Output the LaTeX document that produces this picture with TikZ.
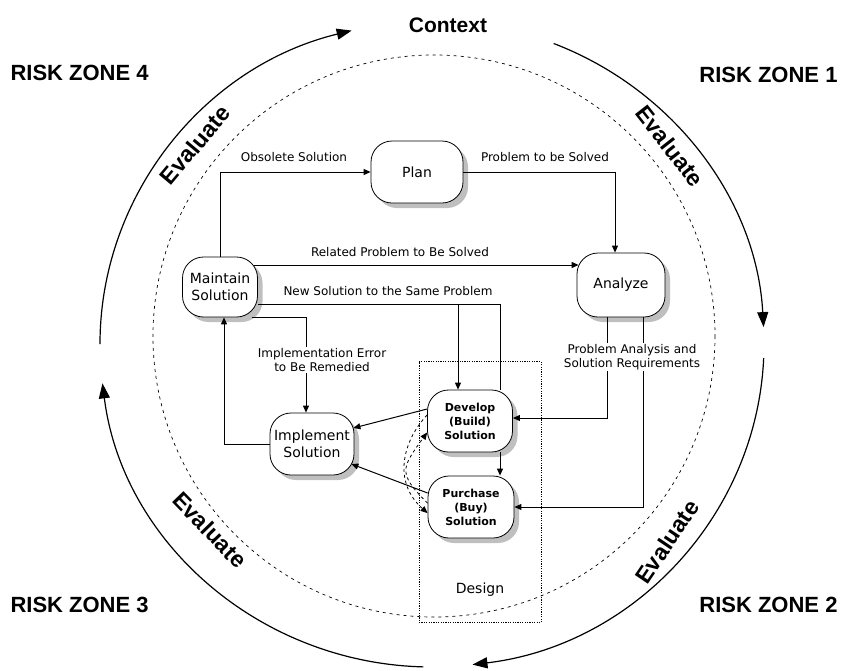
\documentclass[tikz,border=0pt]{standalone}
\usepackage{fontspec}
\setmainfont{DejaVu Sans}
\newfontfamily\boldfont{Liberation Sans}
\usetikzlibrary{arrows.meta,shapes.misc,shadows,calc}
\begin{document}
\begin{tikzpicture}[x=1pt,y=-1pt, line width=1pt,
  proc/.style={rectangle, rounded corners=21pt, draw, line width=0.8pt, fill=white, inner sep=0pt, align=center,
     font=\fontsize{14}{17}\selectfont,
     drop shadow={opacity=1, fill=gray!50, draw=none, shadow xshift=5pt, shadow yshift=-5pt}},
  procb/.style={proc, font=\bfseries\fontsize{11}{14}\selectfont},
  lbl/.style={font=\fontsize{12}{14}\selectfont, inner sep=1pt},
  arr/.style={-{Triangle[length=7pt,width=6pt]}},
  bigarr/.style={-{Triangle[length=15pt,width=11pt]}, line width=1.2pt},
  zone/.style={font=\boldfont\bfseries\fontsize{22}{24}\selectfont, inner sep=0pt},
  evl/.style={font=\boldfont\bfseries\fontsize{23}{24}\selectfont, inner sep=0pt},
]
\useasboundingbox (0,0) rectangle (846,670);

% outer cycle arcs
\draw[bigarr] (432,344) ++(180:332 and 323) arc[start angle=180, end angle=256, x radius=332, y radius=323];
\draw[bigarr] (432,344) ++(291.5:332 and 323) arc[start angle=291.5, end angle=357, x radius=332, y radius=323];
\draw[bigarr] (432,344) ++(2.5:332 and 323) arc[start angle=2.5, end angle=83, x radius=332, y radius=323];
\draw[bigarr] (432,344) ++(91.5:332 and 323) arc[start angle=91.5, end angle=173, x radius=332, y radius=323];

% inner dashed context circle
\draw[dash pattern=on 3pt off 4pt, line width=0.7pt] (434,336) circle[radius=281];

% design box
\node[draw, dash pattern=on 1.2pt off 1.2pt, line width=0.7pt, minimum width=122pt, minimum height=261pt, inner sep=0pt] (design) at (480,492) {};
\node[font=\fontsize{14}{16}\selectfont] (designlbl) at (480,590) {Design};

% processes
\node[proc, minimum width=92pt, minimum height=62pt] (plan) at (417,172) {Plan};
\node[proc, minimum width=88pt, minimum height=64pt] (analyze) at (621,285) {Analyze};
\node[proc, minimum width=75pt, minimum height=60pt] (maint) at (220,287) {Maintain\\Solution};
\node[proc, minimum width=84pt, minimum height=62pt] (impl) at (312,444) {Implement\\Solution};
\node[procb, minimum width=85pt, minimum height=62pt] (dev) at (470,421) {Develop\\(Build)\\Solution};
\node[procb, minimum width=86pt, minimum height=62pt] (pur) at (471,507) {Purchase\\(Buy)\\Solution};

% connectors
\draw[arr] (maint.north) |- (plan.west);
\draw[arr] (plan.east) -| ([xshift=-6pt]analyze.north);
\draw[arr] ([yshift=22pt,xshift=-4pt]maint.east) -- ([yshift=20pt,xshift=2pt]analyze.west);
\coordinate (ns) at ([yshift=-17pt]maint.east);
\draw (ns) -| ([xshift=30pt]dev.north);
\draw[arr] ([xshift=-12pt]dev.north |- ns) -- ([xshift=-12pt]dev.north);
\draw[arr] ([xshift=-6pt]maint.east |- maint.south) -| ([xshift=-6pt]impl.north);
\draw[arr] (impl.west) -| ([xshift=4pt]maint.south);
\draw[arr] ([xshift=-14pt]analyze.south) |- ([yshift=3pt]dev.east);
\draw[arr] ([xshift=22pt]analyze.south) |- (pur.east);
\draw[arr] ([xshift=30pt]dev.south) -- ([xshift=29pt]pur.north);
\draw[arr] ([yshift=12pt]dev.west) -- ([yshift=16pt,xshift=-1pt]impl.east);
\draw[arr] ([yshift=14pt]pur.west) -- ([yshift=-20pt,xshift=-3pt]impl.east);
\draw[arr, dashed, line width=0.8pt] (pur.175) .. controls +(-30,-30) and +(-26,36) .. (dev.195);
\draw[arr, dashed, line width=0.8pt] (dev.172) .. controls +(-26,28) and +(-34,-30) .. (pur.188);

% connector labels
\node[lbl] (l1) at (294,157) {Obsolete Solution};
\node[lbl] (l2) at (545,157) {Problem to be Solved};
\node[lbl] (l3) at (400,252) {Related Problem to Be Solved};
\node[lbl] (l4) at (388,291) {New Solution to the Same Problem};
\node[lbl, fill=white, align=center] (l5) at (322,360) {Implementation Error\\to Be Remedied};
\node[lbl, fill=white, align=center] (l6) at (632,357) {Problem Analysis and\\Solution Requirements};

% zones and context
\node[zone, anchor=west] (z4) at (10,73) {RISK ZONE 4};
\node[zone, anchor=east] (z1) at (838,75) {RISK ZONE 1};
\node[zone, anchor=west] (z3) at (10,605) {RISK ZONE 3};
\node[zone, anchor=east] (z2) at (838,605) {RISK ZONE 2};
\node[font=\boldfont\bfseries\fontsize{21}{24}\selectfont, inner sep=0pt] (ctx) at (448,25) {Context};

\node[evl, rotate=50] (e4) at (195,145) {Evaluate};
\node[evl, rotate=-52] (e1) at (670,146) {Evaluate};
\node[evl, rotate=-46] (e3) at (210,530) {Evaluate};
\node[evl, rotate=56] (e2) at (667,542) {Evaluate};
\end{tikzpicture}
\end{document}
